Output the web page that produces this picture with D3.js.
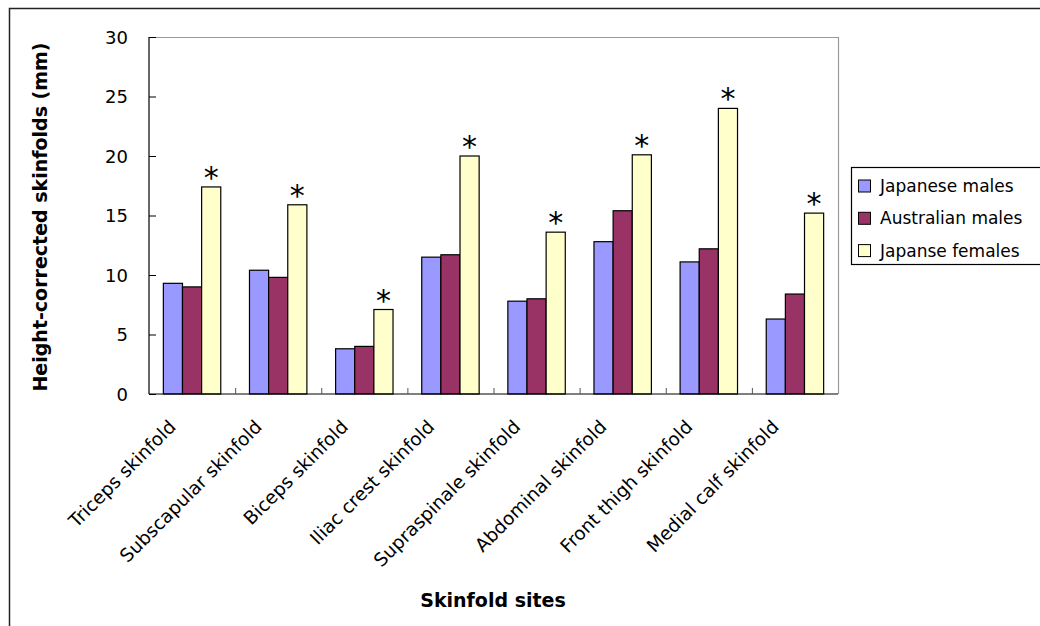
<!DOCTYPE html>
<html>
<head>
<meta charset="utf-8">
<script src="https://cdn.jsdelivr.net/npm/d3@7"></script>
<style>
  body { margin: 0; background: #fff; }
  text { font-family: "DejaVu Sans", sans-serif; fill: #000; }
</style>
</head>
<body>
<div id="chart"></div>
<script>
var sites = ["Triceps skinfold", "Subscapular skinfold", "Biceps skinfold", "Iliac crest skinfold",
  "Supraspinale skinfold", "Abdominal skinfold", "Front thigh skinfold", "Medial calf skinfold"];
var seriesNames = ["Japanese males", "Australian males", "Japanse females"];
var japaneseMales = [9.3, 10.4, 3.8, 11.5, 7.8, 12.8, 11.1, 6.3];
var australianMales = [9.0, 9.8, 4.0, 11.7, 8.0, 15.4, 12.2, 8.4];
var japaneseFemales = [17.4, 15.9, 7.1, 20.0, 13.6, 20.1, 24.0, 15.2];
var significant = [true, true, true, true, true, true, true, true];
var yTicks = [0, 5, 10, 15, 20, 25, 30];
var colors = ["#9999ff", "#993366", "#ffffcc"];

var width = 1040, height = 626;
var plot = { left: 149, right: 838, top: 37, bottom: 394 };

var svg = d3.select('#chart')
  .append('svg')
  .attr('width', width)
  .attr('height', height);

// outer chart border
svg.append('rect')
  .attr('x', 9.5)
  .attr('y', 8.5)
  .attr('width', width + 10)
  .attr('height', height + 10)
  .attr('fill', 'none')
  .attr('stroke', '#222')
  .attr('stroke-width', 1.5);

var xScale = d3.scaleBand()
  .domain(sites)
  .range([plot.left, plot.right])
  .paddingInner(1.5 / 4.5)
  .paddingOuter(0.75 / 4.5);

var xSub = d3.scaleBand()
  .domain(seriesNames)
  .range([0, xScale.bandwidth()]);

var yScale = d3.scaleLinear()
  .domain([0, 30])
  .range([plot.bottom, plot.top]);

// plot area frame (top and right grey)
svg.append('path')
  .attr('d', 'M' + plot.left + ',' + (plot.top + 0.5) + 'H' + (plot.right + 0.5) + 'V' + plot.bottom)
  .attr('fill', 'none')
  .attr('stroke', '#999')
  .attr('stroke-width', 1.2);

var values = [japaneseMales, australianMales, japaneseFemales];

var groups = svg.selectAll('g.site')
  .data(sites)
  .enter()
  .append('g')
  .attr('class', 'site')
  .attr('transform', function (d) { return 'translate(' + xScale(d) + ',0)'; });

groups.selectAll('rect')
  .data(function (d, i) {
    return seriesNames.map(function (s, j) { return { s: s, v: values[j][i], j: j }; });
  })
  .enter()
  .append('rect')
  .attr('x', function (d) { return xSub(d.s); })
  .attr('y', function (d) { return yScale(d.v); })
  .attr('width', xSub.bandwidth())
  .attr('height', function (d) { return yScale(0) - yScale(d.v); })
  .attr('fill', function (d) { return colors[d.j]; })
  .attr('stroke', '#000')
  .attr('stroke-width', 1.2);

// asterisks over the female bars
groups.filter(function (d, i) { return significant[i]; })
  .append('text')
  .attr('x', function () { return xSub(seriesNames[2]) + xSub.bandwidth() / 2; })
  .attr('y', function (d) { return yScale(japaneseFemales[sites.indexOf(d)]) + 1; })
  .attr('text-anchor', 'middle')
  .style('font-size', '30px')
  .text('*');

// y axis, ticks point into the plot
var yAxis = d3.axisLeft(yScale)
  .tickValues(yTicks)
  .tickSize(-7)
  .tickPadding(21);

var yG = svg.append('g')
  .attr('transform', 'translate(' + plot.left + ',0)')
  .call(yAxis);
yG.select('.domain').attr('stroke', '#000').attr('stroke-width', 1.2).attr('d', 'M0,' + plot.top + 'V' + plot.bottom);
yG.selectAll('.tick line').attr('stroke', '#000');
yG.selectAll('.tick text').style('font-size', '18px').style('font-family', '"DejaVu Sans", sans-serif').attr('dy', '0.36em');

// x axis (ticks between categories, pointing inward)
var xEdge = d3.scaleLinear().domain([0, sites.length]).range([plot.left, plot.right]);
var xAxis = d3.axisBottom(xEdge)
  .tickValues(d3.range(1, sites.length))
  .tickSize(-6)
  .tickFormat('');
var xG = svg.append('g')
  .attr('transform', 'translate(0,' + plot.bottom + ')')
  .call(xAxis);
xG.select('.domain').attr('stroke', '#000').attr('stroke-width', 1.2).attr('d', 'M' + plot.left + ',0H' + plot.right);
xG.selectAll('.tick line').attr('stroke', '#555');

// rotated category labels
svg.selectAll('text.cat')
  .data(sites)
  .enter()
  .append('text')
  .attr('class', 'cat')
  .attr('text-anchor', 'end')
  .attr('transform', function (d) {
    var cx = xScale(d) + xScale.bandwidth() / 2;
    return 'translate(' + (cx - 15) + ',' + (plot.bottom + 34) + ') rotate(-45)';
  })
  .style('font-size', '18.5px')
  .text(function (d) { return d; });

// axis titles
svg.append('text')
  .attr('transform', 'translate(47,217) rotate(-90)')
  .attr('text-anchor', 'middle')
  .style('font-size', '19px')
  .style('font-weight', 'bold')
  .text('Height-corrected skinfolds (mm)');

svg.append('text')
  .attr('x', 493)
  .attr('y', 607)
  .attr('text-anchor', 'middle')
  .style('font-size', '19px')
  .style('font-weight', 'bold')
  .text('Skinfold sites');

// legend
var legend = svg.append('g').attr('transform', 'translate(851,167)');
legend.append('rect')
  .attr('x', 0.5)
  .attr('y', 0.5)
  .attr('width', 220)
  .attr('height', 97)
  .attr('fill', '#fff')
  .attr('stroke', '#000')
  .attr('stroke-width', 1.2);

var items = legend.selectAll('g.item')
  .data(seriesNames)
  .enter()
  .append('g')
  .attr('class', 'item')
  .attr('transform', function (d, i) { return 'translate(7,' + (19 + i * 32.3) + ')'; });
items.append('rect')
  .attr('x', 0.5)
  .attr('y', -6)
  .attr('width', 12)
  .attr('height', 12)
  .attr('fill', function (d, i) { return colors[i]; })
  .attr('stroke', '#000');
items.append('text')
  .attr('x', 22)
  .attr('y', 0)
  .attr('dy', '0.36em')
  .style('font-size', '17px')
  .text(function (d) { return d; });
</script>
</body>
</html>
